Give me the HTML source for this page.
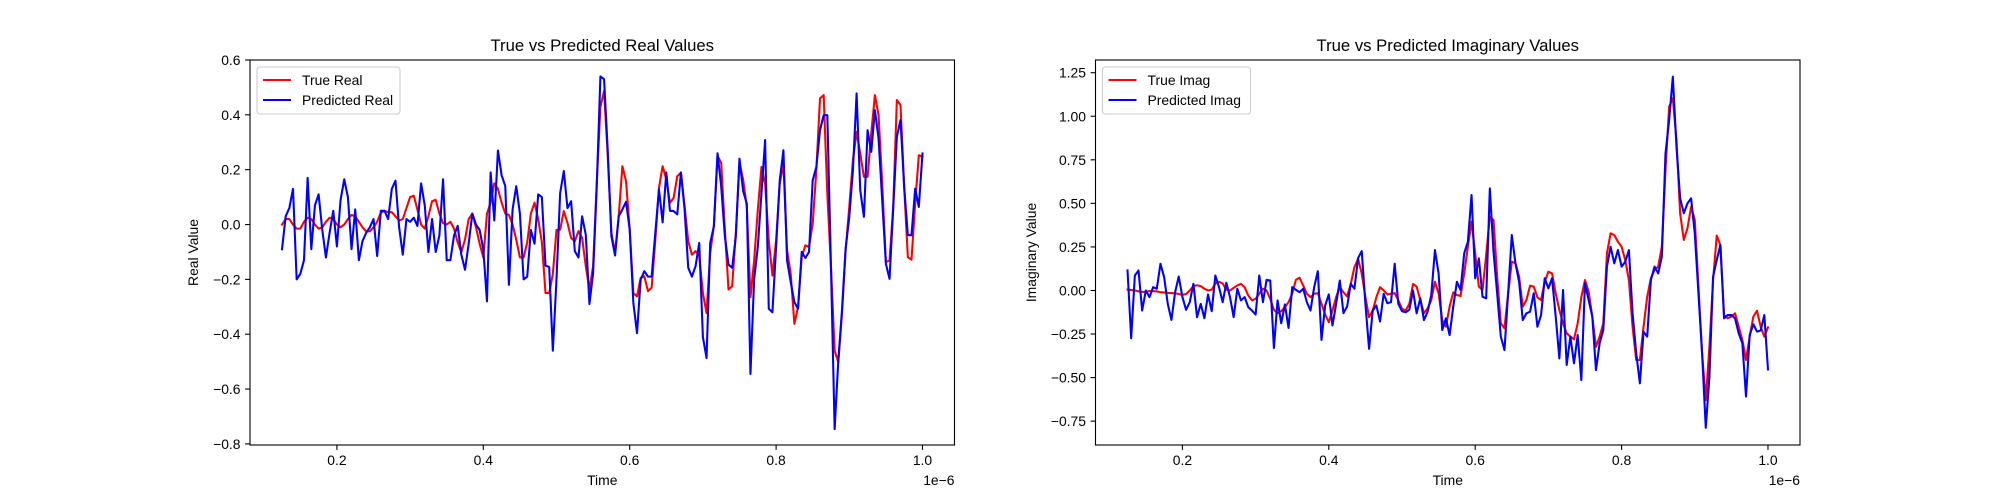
<!DOCTYPE html>
<html><head><meta charset="utf-8"><style>
html,body{margin:0;padding:0;background:#fff;}
svg{display:block;font-family:"Liberation Sans","DejaVu Sans",sans-serif;}
</style></head><body>
<svg id="fig" width="2000" height="500" viewBox="0 0 2000 500" xmlns="http://www.w3.org/2000/svg"></svg>
<script>
const xTicks=[0.2,0.4,0.6,0.8,1.0];
const xTickLabels=["0.2","0.4","0.6","0.8","1.0"];
const realYTicks=[-0.8,-0.6,-0.4,-0.2,0.0,0.2,0.4,0.6];
const realYTickLabels=["\u22120.8","\u22120.6","\u22120.4","\u22120.2","0.0","0.2","0.4","0.6"];
const imagYTicks=[-0.75,-0.5,-0.25,0,0.25,0.5,0.75,1.0,1.25];
const imagYTickLabels=["\u22120.75","\u22120.50","\u22120.25","0.00","0.25","0.50","0.75","1.00","1.25"];
const timeStart=0.125;
const timeStep=0.005;
const trueReal=[0.0,0.02,0.02,0.0,-0.015,-0.015,0.01,0.025,0.02,0.0,-0.015,-0.01,0.01,0.025,0.02,0.0,-0.01,0.0,0.02,0.035,0.03,0.01,-0.01,-0.025,-0.025,-0.01,0.01,
0.043,0.05,0.045,0.045,0.03,0.015,0.02,0.06,0.10,0.105,0.055,0.0,-0.015,0.03,0.085,0.09,0.04,0.005,0.0,0.01,-0.015,-0.065,-0.1,-0.055,0.02,0.04,-0.01,-0.07,-0.12,0.04,0.08,0.15,0.13,0.08,0.04,0.035,0.0,-0.055,-0.12,-0.12,-0.065,0.04,0.08,0.02,-0.065,-0.25,-0.25,-0.18,-0.02,
-0.018,0.049,0.006,-0.049,-0.061,-0.024,-0.049,-0.152,-0.237,-0.152,0.152,0.43,0.487,0.25,-0.03,-0.103,0.03,0.213,0.158,-0.018,-0.25,-0.262,-0.195,-0.189,-0.243,-0.23,-0.055,0.134,0.213,0.164,0.079,0.097,0.176,0.189,0.067,-0.061,-0.11,-0.097,-0.116,-0.25,-0.323,-0.103,-0.006,0.25,0.225,-0.018,-0.237,-0.225,-0.03,0.225,0.164,
0.064,-0.265,-0.131,0.052,0.21,0.149,-0.058,-0.186,-0.058,0.149,0.222,-0.094,-0.18,-0.362,-0.301,-0.119,-0.076,-0.082,0.003,0.198,0.46,0.472,0.113,-0.155,-0.46,-0.502,-0.326,-0.094,0.064,0.235,0.338,0.259,0.174,0.174,0.332,0.472,0.399,0.149,-0.137,-0.131,0.064,0.454,0.436,0.137,-0.119,-0.128,0.076,0.253,0.247];
const predReal=[-0.09,0.03,0.06,0.13,-0.2,-0.18,-0.13,0.17,-0.09,0.07,0.11,-0.02,-0.12,-0.03,0.05,-0.08,0.09,0.165,0.1,-0.09,0.055,-0.13,-0.06,-0.03,-0.01,0.02,-0.115,
0.05,0.05,0.02,0.13,0.16,-0.01,-0.11,0.02,0.01,0.025,-0.005,0.15,0.07,-0.10,0.02,-0.10,-0.04,0.165,-0.13,-0.13,-0.04,-0.005,-0.11,-0.165,-0.07,0.04,0.0,-0.02,-0.09,-0.28,0.19,0.015,0.27,0.18,0.14,-0.22,0.055,0.14,0.04,-0.2,-0.19,-0.02,-0.07,0.11,0.10,-0.15,-0.155,-0.46,-0.2,0.115,0.195,0.06,
0.085,-0.097,-0.12,0.03,-0.037,-0.29,-0.177,0.14,0.54,0.53,0.27,-0.043,-0.113,0.03,0.055,0.083,-0.018,-0.286,-0.396,-0.2,-0.17,-0.19,-0.19,-0.03,0.128,0.008,0.19,0.05,0.049,0.037,0.19,0.055,-0.158,-0.19,-0.152,-0.067,-0.41,-0.487,-0.067,-0.006,0.26,0.14,-0.043,-0.146,-0.158,-0.043,0.24,0.122,
0.076,-0.545,-0.2,-0.082,0.113,0.308,-0.307,-0.32,-0.082,0.161,0.271,-0.131,-0.21,-0.283,-0.307,-0.1,-0.122,-0.1,0.161,0.21,0.344,0.399,0.399,-0.155,-0.746,-0.496,-0.314,-0.088,0.028,0.198,0.478,0.125,0.028,0.344,0.265,0.417,0.314,0.088,-0.143,-0.198,0.058,0.32,0.381,0.137,-0.039,-0.039,0.131,0.064,0.259];
const trueImag=[0.005,0.003,0.0,-0.005,-0.008,-0.008,-0.003,-0.004,-0.005,-0.01,-0.012,-0.014,-0.015,-0.016,-0.02,-0.025,-0.02,0.0,0.025,0.03,0.025,0.01,0.0,0.005,0.04,0.05,0.04,
0.004,0.0,0.015,0.029,0.038,0.019,-0.029,-0.057,-0.048,-0.019,0.01,0.0,-0.048,-0.111,-0.13,-0.119,-0.096,-0.067,-0.019,0.061,0.073,0.029,-0.019,-0.038,-0.019,-0.015,-0.077,-0.138,-0.182,-0.115,-0.038,0.019,-0.01,-0.034,0.038,0.134,0.182,0.096,-0.038,-0.153,-0.115,-0.038,0.019,0.0,-0.023,-0.019,-0.015,-0.057,-0.105,-0.115,-0.077,
0.037,0.022,-0.055,-0.131,-0.103,-0.055,0.05,-0.016,-0.17,-0.208,-0.093,-0.011,-0.026,-0.032,0.098,0.251,0.395,0.213,0.022,0.003,0.204,0.424,0.405,0.079,-0.189,-0.217,-0.016,0.165,0.156,0.079,-0.093,-0.055,0.028,0.022,-0.039,-0.055,0.05,0.108,0.098,-0.016,-0.112,-0.189,-0.246,-0.265,-0.28,-0.189,-0.039,0.06,-0.007,-0.15,
-0.323,-0.265,-0.189,0.213,0.328,0.318,0.28,0.251,0.175,0.06,-0.208,-0.399,-0.399,-0.208,-0.036,0.07,0.118,0.137,0.251,0.692,1.055,1.103,0.864,0.443,0.29,0.357,0.481,0.405,0.022,-0.361,-0.629,-0.323,0.06,0.315,0.261,-0.141,-0.16,-0.15,-0.131,-0.208,-0.284,-0.399,-0.265,-0.15,-0.116,-0.208,-0.265,-0.212];
const predImag=[0.115,-0.274,0.086,0.115,-0.115,0.0,-0.038,0.019,0.01,0.153,0.077,-0.077,-0.169,-0.01,0.08,-0.038,-0.111,-0.067,0.038,-0.153,-0.077,-0.159,-0.023,-0.119,0.086,0.019,-0.067,
0.044,-0.038,-0.153,0.01,-0.057,-0.038,-0.096,-0.115,-0.138,0.086,-0.067,0.061,0.057,-0.33,-0.057,-0.188,-0.08,-0.215,0.019,0.004,-0.01,0.01,-0.067,-0.115,0.019,0.111,-0.284,-0.086,-0.023,-0.201,-0.077,0.057,-0.13,-0.092,0.038,0.01,0.186,0.226,-0.077,-0.335,-0.115,-0.086,-0.178,-0.019,-0.073,-0.067,0.153,-0.077,-0.119,-0.125,-0.111,
0.0,-0.131,-0.045,-0.17,-0.122,-0.026,0.232,0.098,-0.227,-0.16,-0.256,-0.093,0.05,0.003,0.213,0.28,0.548,0.07,0.184,-0.036,-0.045,0.586,0.223,-0.016,-0.265,-0.342,-0.016,0.318,0.156,0.05,-0.17,-0.131,-0.122,-0.016,-0.208,-0.141,0.07,0.012,0.07,-0.15,-0.39,0.003,-0.428,-0.265,-0.418,-0.256,-0.514,0.041,-0.055,-0.15,
-0.457,-0.303,-0.227,0.137,0.251,0.156,0.232,0.137,0.165,0.232,-0.131,-0.361,-0.533,-0.236,-0.265,0.06,0.137,0.098,0.194,0.787,0.979,1.227,0.825,0.529,0.443,0.5,0.529,0.328,-0.016,-0.361,-0.788,-0.495,0.079,0.175,0.261,-0.16,-0.141,-0.141,-0.16,-0.246,-0.303,-0.609,-0.256,-0.194,-0.236,-0.23,-0.141,-0.453];

const NS="http://www.w3.org/2000/svg";
const svg=document.getElementById('fig');
function mk(tag,attrs,parent){const e=document.createElementNS(NS,tag);for(const k in attrs)e.setAttribute(k,attrs[k]);(parent||svg).appendChild(e);return e;}
const XMIN=0.08125,XMAX=1.04375;

function drawPanel(cfg){
  const g=mk('g',{});
  
  
  const L=cfg.left,R=cfg.left+704.5,T=60,B=445;
  const sx=v=>L+(v-XMIN)/(XMAX-XMIN)*(R-L);
  const sy=v=>B-(v-cfg.ymin)/(cfg.ymax-cfg.ymin)*(B-T);
  // series
  [[cfg.trueData,'#ff0000',cfg.trueName,'true-line'],[cfg.predData,'#0000ff',cfg.predName,'predicted-line']].forEach(s=>{
    let d='';
    s[0].forEach((v,i)=>{const t=timeStart+timeStep*i;d+=(i?'L':'M')+sx(t).toFixed(2)+' '+sy(v).toFixed(2);});
    const p=mk('path',{d:d,fill:'none',stroke:s[1],'stroke-width':2.08,'stroke-linejoin':'round','stroke-linecap':'square'},g);
    
    
  });
  // frame
  const fr=mk('rect',{x:L,y:T,width:R-L,height:B-T,fill:'none',stroke:'#000','stroke-width':1.1},g);
  
  
  // x ticks
  xTicks.forEach((v,i)=>{
    const x=sx(v);
    mk('line',{x1:x,y1:B,x2:x,y2:B+4.9,stroke:'#000','stroke-width':1.1},g);
    const t=mk('text',{x:x,y:B+20,'font-size':13.9,'text-anchor':'middle',fill:'#000'},g);
    t.textContent=xTickLabels[i];
    
    
  });
  cfg.yTicks.forEach((v,i)=>{
    const y=sy(v);
    mk('line',{x1:L-4.9,y1:y,x2:L,y2:y,stroke:'#000','stroke-width':1.1},g);
    const t=mk('text',{x:L-9.5,y:y+5,'font-size':13.9,'text-anchor':'end',fill:'#000'},g);
    t.textContent=cfg.yTickLabels[i];
    
    
  });
  const ti=mk('text',{x:(L+R)/2,y:51,'font-size':16.7,'text-anchor':'middle',fill:'#000'},g);
  ti.textContent=cfg.title;
  
  
  const xl=mk('text',{x:(L+R)/2,y:485,'font-size':13.9,'text-anchor':'middle',fill:'#000'},g);
  xl.textContent='Time';
  
  
  const off=mk('text',{x:R,y:485,'font-size':13.9,'text-anchor':'end',fill:'#000'},g);
  off.textContent='1e\u22126';
  
  
  const yl=mk('text',{x:0,y:0,'font-size':13.9,'text-anchor':'middle',fill:'#000',transform:'translate('+cfg.ylabX+','+((T+B)/2)+') rotate(-90)'},g);
  yl.textContent=cfg.ylabel;
  
  
  // legend
  const lg=mk('g',{},g);
  
  
  mk('rect',{x:L+7,y:T+7,width:cfg.legW,height:47,rx:3,fill:'#fff','fill-opacity':0.8,stroke:'#cccccc','stroke-width':1.1},lg);
  [[cfg.trueName,'#ff0000',T+25],[cfg.predName,'#0000ff',T+45]].forEach(e=>{
    const le=mk('g',{},lg);
    
    
    mk('line',{x1:L+13,y1:e[2]-5,x2:L+41,y2:e[2]-5,stroke:e[1],'stroke-width':2.08},le);
    const tx=mk('text',{x:L+52,y:e[2],'font-size':13.9,fill:'#000'},le);
    tx.textContent=e[0];
  });
}
drawPanel({name:'real-panel',left:250,ymin:-0.804,ymax:0.6,trueData:trueReal,predData:predReal,trueName:'True Real',predName:'Predicted Real',yTicks:realYTicks,yTickLabels:realYTickLabels,title:'True vs Predicted Real Values',ylabel:'Real Value',ylabX:198,legW:143});
drawPanel({name:'imag-panel',left:1095.5,ymin:-0.887,ymax:1.323,trueData:trueImag,predData:predImag,trueName:'True Imag',predName:'Predicted Imag',yTicks:imagYTicks,yTickLabels:imagYTickLabels,title:'True vs Predicted Imaginary Values',ylabel:'Imaginary Value',ylabX:1036,legW:148});
</script>
</body></html>
